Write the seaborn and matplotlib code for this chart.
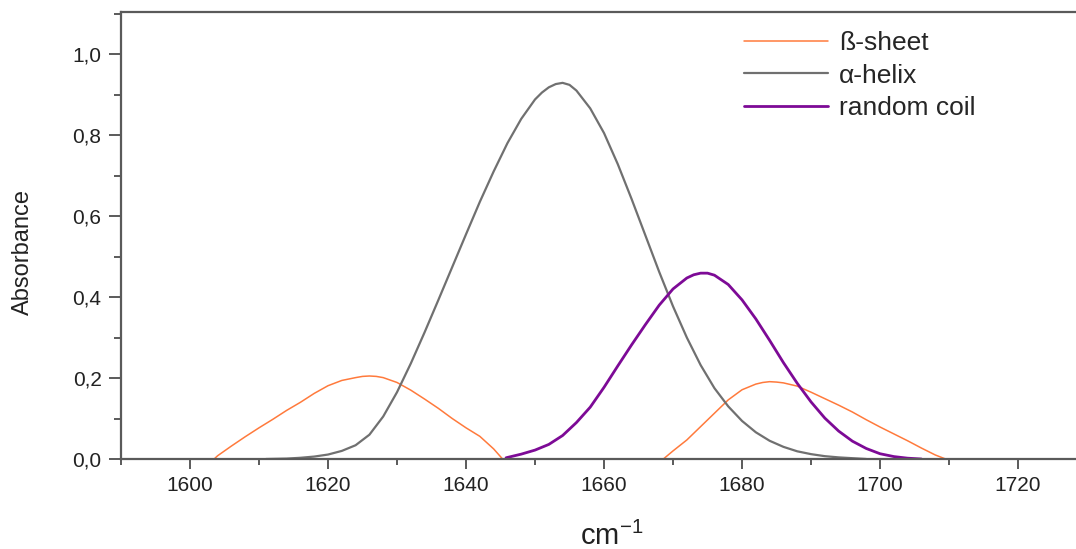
import matplotlib
matplotlib.use("Agg")
import matplotlib.pyplot as plt
from matplotlib.ticker import MultipleLocator
import pandas as pd
import seaborn as sns

# Band components of the amide I region (wavenumber in cm-1, absorbance)
sheet_wn = [1603.5, 1604, 1606, 1608, 1610, 1612, 1614, 1616, 1618, 1620, 1622, 1624,
            1625, 1626, 1627, 1628, 1630, 1632, 1634, 1636, 1638, 1640, 1642, 1644, 1645.3,
            1656, 1668.6, 1670, 1672, 1674, 1676, 1678, 1680, 1682, 1683, 1684, 1685, 1686, 1688,
            1690, 1692, 1694, 1696, 1698, 1700, 1702, 1704, 1706, 1708, 1709.5]
sheet_abs = [0.0, 0.008, 0.032, 0.055, 0.077, 0.098, 0.120, 0.140, 0.162, 0.181, 0.194, 0.201,
             0.204, 0.205, 0.204, 0.201, 0.189, 0.170, 0.148, 0.125, 0.100, 0.077, 0.056, 0.025, 0.0,
             0.0, 0.0, 0.020, 0.047, 0.080, 0.113, 0.146, 0.171, 0.185, 0.189, 0.191, 0.190, 0.188, 0.180,
             0.165, 0.149, 0.133, 0.116, 0.097, 0.079, 0.062, 0.045, 0.027, 0.010, 0.0]

helix_wn = [1611, 1614, 1616, 1618, 1620, 1622, 1624, 1626, 1628, 1630, 1632, 1634, 1636,
            1638, 1640, 1642, 1644, 1646, 1648, 1650, 1651, 1652, 1653, 1654, 1655, 1656,
            1658, 1660, 1662, 1664, 1666, 1668, 1670, 1672, 1674, 1676, 1678, 1680, 1682,
            1684, 1686, 1688, 1690, 1692, 1694, 1696, 1698]
helix_abs = [0.0, 0.001, 0.003, 0.006, 0.011, 0.020, 0.034, 0.060, 0.105, 0.165, 0.236, 0.313,
             0.393, 0.474, 0.555, 0.635, 0.710, 0.780, 0.840, 0.888, 0.905, 0.918, 0.926, 0.929,
             0.924, 0.910, 0.866, 0.805, 0.728, 0.642, 0.552, 0.462, 0.377, 0.300, 0.232, 0.175,
             0.130, 0.094, 0.066, 0.045, 0.030, 0.019, 0.012, 0.007, 0.004, 0.002, 0.0]

coil_wn = [1645.8, 1648, 1650, 1652, 1654, 1656, 1658, 1660, 1662, 1664, 1666, 1668, 1670,
           1672, 1673, 1674, 1675, 1676, 1678, 1680, 1682, 1684, 1686, 1688, 1690, 1692, 1694,
           1696, 1698, 1700, 1702, 1704, 1706]
coil_abs = [0.003, 0.012, 0.022, 0.036, 0.058, 0.090, 0.128, 0.177, 0.230, 0.282, 0.332, 0.380,
            0.420, 0.447, 0.455, 0.459, 0.459, 0.454, 0.431, 0.393, 0.346, 0.293, 0.238, 0.187,
            0.141, 0.101, 0.069, 0.044, 0.026, 0.013, 0.006, 0.002, 0.0]

series_names = ["ß-sheet", "α-helix", "random coil"]
line_colors = ["#ff7a3c", "#707070", "#7d0a96"]
line_widths = [1.1, 1.6, 2.0]

x_ticks = [1600, 1620, 1640, 1660, 1680, 1700, 1720]
y_ticks = [0.0, 0.2, 0.4, 0.6, 0.8, 1.0]
y_tick_labels = ["0,0", "0,2", "0,4", "0,6", "0,8", "1,0"]

frames = []
for name, wn, ab in zip(series_names,
                        [sheet_wn, helix_wn, coil_wn],
                        [sheet_abs, helix_abs, coil_abs]):
    frames.append(pd.DataFrame({"wavenumber": wn, "absorbance": ab, "structure": name}))
df = pd.concat(frames, ignore_index=True)

sns.set_theme(style="ticks")
plt.rcParams["font.family"] = ["Liberation Sans", "DejaVu Sans"]
plt.rcParams["mathtext.default"] = "regular"

W, H = 1076, 549
fig = plt.figure(figsize=(W / 100, H / 100), dpi=100)
ax = fig.add_axes([121 / W, (H - 459) / H, (W - 121) / W, 447 / H])

sns.lineplot(data=df, x="wavenumber", y="absorbance",
             hue="structure", size="structure",
             hue_order=series_names, size_order=series_names,
             palette=dict(zip(series_names, line_colors)),
             sizes=dict(zip(series_names, line_widths)),
             estimator=None, sort=True, ax=ax)

ax.set_xlim(1590, 1728.4)
ax.set_ylim(0, 1.104)
ax.set_xlabel("")
ax.set_ylabel("")

ax.set_xticks(x_ticks)
ax.xaxis.set_minor_locator(MultipleLocator(10))
ax.set_yticks(y_ticks, labels=y_tick_labels)
ax.yaxis.set_minor_locator(MultipleLocator(0.1))

spine_color = "#5a5a5a"
for side in ["left", "bottom", "top"]:
    ax.spines[side].set_color(spine_color)
    ax.spines[side].set_linewidth(1.6)
ax.spines["right"].set_visible(False)

ax.tick_params(axis="both", which="both", direction="out", color=spine_color,
               width=1.4, labelcolor="#222222", labelsize=15, top=False, right=False)
ax.tick_params(axis="x", which="major", length=7, pad=5)
ax.tick_params(axis="x", which="minor", length=4)
ax.tick_params(axis="y", which="major", length=9, pad=5)
ax.tick_params(axis="y", which="minor", length=5)

fig.text(23 / W, 1 - 252 / H, "Absorbance", rotation=90, ha="center", va="center",
         fontsize=17, color="#222222")
fig.text(612 / W, 1 - 536 / H, r"cm$^{-1}$", ha="center", va="center",
         fontsize=21, color="#222222")

sns.move_legend(ax, loc="upper left", bbox_to_anchor=(744 / W, 1 - 31 / H),
                bbox_transform=fig.transFigure, frameon=False, title=None,
                fontsize=19, handlelength=3.2, handletextpad=0.4,
                labelspacing=0.33, borderpad=0, borderaxespad=0)

fig.savefig("out.png", dpi=100, facecolor="white")
